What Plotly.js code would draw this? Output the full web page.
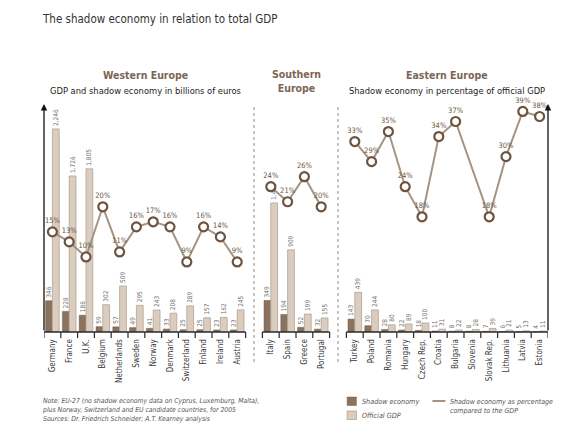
<!DOCTYPE html>
<html><head><meta charset="utf-8">
<script src="https://cdn.plot.ly/plotly-3.0.1.min.js"></script>
<style>html,body{margin:0;padding:0;background:#fff}#chart{width:580px;height:442px}</style>
</head><body><div id="chart"></div>
<script>
// ---- data ----
const westCountries = ["Germany","France","U.K.","Belgium","Netherlands","Sweden","Norway","Denmark","Switzerland","Finland","Ireland","Austria"];
const westShadow = [346,228,186,59,57,49,41,33,25,25,23,23];
const westGDP = [2246,1726,1805,302,509,295,243,208,289,157,162,245];
const westPct = [15,13,10,20,11,16,17,16,9,16,14,9];

const southCountries = ["Italy","Spain","Greece","Portugal"];
const southShadow = [349,194,52,32];
const southGDP = [1428,909,199,155];
const southPct = [24,21,26,20];

const eastCountries = ["Turkey","Poland","Romania","Hungary","Czech Rep.","Croatia","Bulgaria","Slovenia","Slovak Rep.","Lithuania","Latvia","Estonia"];
const eastShadow = [143,70,28,22,18,11,8,8,7,6,5,4];
const eastGDP = [439,244,80,89,100,31,22,28,39,21,13,11];
const eastPct = [33,29,35,24,18,34,37,null,18,30,39,38];

// ---- layout helpers ----
const F = '"Liberation Sans Narrow","DejaVu Sans Condensed","Liberation Sans",sans-serif';
const W = 580, H = 442;
const L = 43.6, R = 547.6, T = 108, B = 332;
const px = x => (x - L) / (R - L);
const py = y => (B - y) / (B - T);

const westPos = westCountries.map((_, i) => i);
const southStart = westCountries.length + 1;
const southPos = southCountries.map((_, i) => southStart + i);
const eastStart = southStart + southCountries.length + 1;
const eastPos = eastCountries.map((_, i) => eastStart + i);
const nSlots = eastStart + eastCountries.length;

const allPos = westPos.concat(southPos, eastPos);
const allNames = westCountries.concat(southCountries, eastCountries);
const allShadow = westShadow.concat(southShadow, eastShadow);
const allGDP = westGDP.concat(southGDP, eastGDP);

const cDark = '#8b725d', cLight = '#dacdc0', cLine = '#a59483', cMark = '#6e533f';

const barText = {size: 6.5, color: '#707070', family: F};
const traces = [
  {type:'bar', x: allPos, y: allShadow, name:'Shadow economy',
   marker:{color:cDark, line:{color:'#735c4a', width:0.5}},
   text: allShadow.map(v => v.toLocaleString('en-US')), textposition:'outside', textangle:-90,
   constraintext:'none', cliponaxis:false, textfont: barText, hoverinfo:'skip', showlegend:false},
  {type:'bar', x: allPos, y: allGDP, name:'Official GDP',
   marker:{color:cLight, line:{color:'#b3a392', width:0.8}},
   text: allGDP.map(v => v.toLocaleString('en-US')), textposition:'outside', textangle:-90,
   constraintext:'none', cliponaxis:false, textfont: barText, hoverinfo:'skip', showlegend:false}
];
function pctTrace(pos, vals) {
  return {type:'scatter', mode:'lines+markers+text', x: pos, y: vals, yaxis:'y2',
    connectgaps:true, cliponaxis:false,
    line:{color:cLine, width:2},
    marker:{size:9, color:'#ffffff', line:{color:cMark, width:2.2}},
    text: vals.map(v => v === null ? '' : v + '%'), textposition:'top center',
    textfont:{size:7.5, color:'#6a5646', family:F}, showlegend:false, hoverinfo:'skip'};
}
traces.push(pctTrace(westPos, westPct), pctTrace(southPos, southPct), pctTrace(eastPos, eastPct));

// axis baseline segments and boundary ticks
const shapes = [];
const groups = [[westPos[0], westPos[westPos.length-1]], [southPos[0], southPos[southPos.length-1]], [eastPos[0], eastPos[eastPos.length-1]]];
groups.forEach(g => {
  shapes.push({type:'line', xref:'x', yref:'paper', x0:g[0]-0.5, x1:g[1]+0.5, y0:0, y1:0, line:{color:'#2a2a2a', width:1.5}});
  for (let b = g[0]-0.5; b <= g[1]+0.5 + 1e-9; b += 1) {
    shapes.push({type:'line', xref:'x', yref:'paper', x0:b, x1:b, y0:0, y1:py(338), line:{color:'#2a2a2a', width:1.2}});
  }
});
// dashed separators
[southStart - 1, eastStart - 1].forEach(s => {
  shapes.push({type:'line', xref:'x', yref:'paper', x0:s, x1:s, y0:py(362), y1:py(106), line:{color:'#8a8a8a', width:1, dash:'3px,3px'}});
});
// legend swatches
shapes.push({type:'rect', xref:'paper', yref:'paper', x0:px(346.7), x1:px(356), y0:py(397), y1:py(405.5), fillcolor:cDark, line:{color:'#735c4a', width:0.5}});
shapes.push({type:'rect', xref:'paper', yref:'paper', x0:px(346.7), x1:px(356), y0:py(411), y1:py(419.5), fillcolor:cLight, line:{color:'#b3a392', width:0.8}});
shapes.push({type:'line', xref:'paper', yref:'paper', x0:px(432), x1:px(445), y0:py(401), y1:py(401), line:{color:cLine, width:2}});

const ann = [];
function txt(x, y, s, size, color, opts) {
  ann.push(Object.assign({xref:'paper', yref:'paper', x:px(x), y:py(y), text:s, showarrow:false,
    font:{family:F, size:size, color:color}, xanchor:'center', yanchor:'middle'}, opts || {}));
}
txt(40, 19, 'The shadow economy in relation to total GDP', 11.5, '#333333', {xanchor:'left'});
txt(145, 75, '<b>Western Europe</b>', 10.5, '#7b6655');
txt(145, 90, 'GDP and shadow economy in billions of euros', 9.3, '#222222');
txt(296, 81, '<b>Southern<br>Europe</b>', 10.5, '#7b6655');
txt(447, 75, '<b>Eastern Europe</b>', 10.5, '#7b6655');
txt(447, 90, 'Shadow economy in percentage of official GDP', 9.3, '#222222');
txt(40, 410, '<i>Note: EU-27 (no shadow economy data on Cyprus, Luxemburg, Malta),<br>plus Norway, Switzerland and EU candidate countries, for 2005<br>Sources: Dr. Friedrich Schneider; A.T. Kearney analysis</i>', 6.8, '#555555', {xanchor:'left', align:'left'});
txt(360, 401, '<i>Shadow economy</i>', 7.2, '#555555', {xanchor:'left'});
txt(360, 415, '<i>Official GDP</i>', 7.2, '#555555', {xanchor:'left'});
txt(448, 406, '<i>Shadow economy as percentage<br>compared to the GDP</i>', 7, '#555555', {xanchor:'left', align:'left'});
// axis arrows
ann.push({xref:'x', yref:'paper', x:-0.5, y:py(104), ax:0, ay:228, showarrow:true, arrowhead:2, arrowsize:1, arrowwidth:1.3, arrowcolor:'#111', text:'', standoff:0});
ann.push({xref:'x', yref:'paper', x:nSlots-0.5, y:py(104), ax:0, ay:228, showarrow:true, arrowhead:2, arrowsize:1, arrowwidth:1.3, arrowcolor:'#111', text:'', standoff:0});

const layout = {
  width:W, height:H, margin:{l:L, r:W-R, t:T, b:H-B, pad:0},
  paper_bgcolor:'#fff', plot_bgcolor:'rgba(0,0,0,0)',
  barmode:'group', bargap:0.19, bargroupgap:0,
  font:{family:F},
  showlegend:false,
  xaxis:{range:[-0.5, nSlots-0.5], tickmode:'array', tickvals:allPos, ticktext:allNames, tickangle:-90,
    ticks:'outside', ticklen:3, tickcolor:'rgba(0,0,0,0)', showline:false, showgrid:false, zeroline:false,
    tickfont:{family:F, size:8, color:'#3a3a3a'}, fixedrange:true},
  yaxis:{range:[0, (B-T)/0.0904], visible:false, showgrid:false, zeroline:false, fixedrange:true},
  yaxis2:{range:[-(364-B)/6.45, (364-T)/6.45], overlaying:'y', visible:false, showgrid:false, zeroline:false, fixedrange:true},
  shapes:shapes, annotations:ann
};
Plotly.newPlot('chart', traces, layout, {staticPlot:true, displayModeBar:false});
</script></body></html>
